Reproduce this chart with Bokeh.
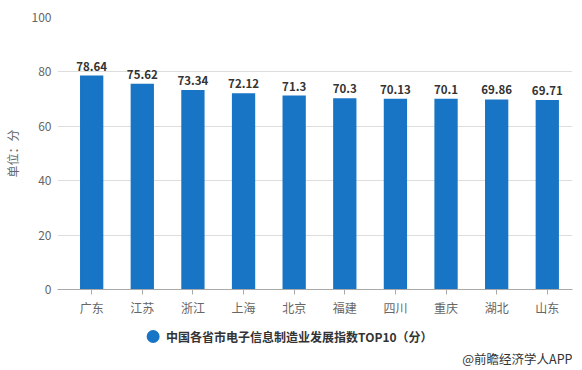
from bokeh.plotting import figure
from bokeh.layouts import column
from bokeh.models import ColumnDataSource, FixedTicker, Range1d
from bokeh.core.properties import value
from bokeh.embed import file_html
from bokeh.resources import INLINE

provinces = ["广东", "江苏", "浙江", "上海", "北京", "福建", "四川", "重庆", "湖北", "山东"]
values = [78.64, 75.62, 73.34, 72.12, 71.3, 70.3, 70.13, 70.1, 69.86, 69.71]
value_labels = ["78.64", "75.62", "73.34", "72.12", "71.3", "70.3", "70.13", "70.1", "69.86", "69.71"]
y_ticks = [0, 20, 40, 60, 80, 100]
series_name = "中国各省市电子信息制造业发展指数TOP10（分）"
y_title = "单位：分"
source_note = "@前瞻经济学人APP"

FONT = "Noto Sans CJK SC"
BAR = "#1874c4"
W = 574
FL, FR = 55, 572  # frame left / right in pixels

idx = list(range(len(provinces)))
src = ColumnDataSource(dict(x=idx, top=values, lab=value_labels))

p = figure(width=W, height=324, output_backend="svg",
           toolbar_location=None, min_border_left=FL, min_border_right=W - FR,
           min_border_top=17, min_border_bottom=35,
           x_range=Range1d(-0.675, len(provinces) - 0.502), y_range=Range1d(0, 100))
p.outline_line_color = None

p.vbar(x="x", top="top", width=0.46, source=src, color=BAR, line_color=None)
p.text(x="x", y="top", text="lab", source=src, text_align="center", text_baseline="bottom",
       y_offset=-5, text_font_size="11.5px", text_font_style="bold", text_color="#333333",
       text_font=value(FONT))

p.yaxis.ticker = FixedTicker(ticks=y_ticks)
p.yaxis.axis_line_color = None
p.yaxis.major_tick_line_color = None
p.yaxis.major_tick_out = 0
p.yaxis.major_tick_in = 0
p.yaxis.minor_tick_line_color = None
p.yaxis.major_label_text_font_size = "12px"
p.yaxis.major_label_text_color = "#666666"
p.yaxis.major_label_text_font = FONT
p.yaxis.major_label_standoff = 6
p.yaxis.axis_label = y_title
p.yaxis.axis_label_text_font = FONT
p.yaxis.axis_label_text_font_size = "12px"
p.yaxis.axis_label_text_font_style = "normal"
p.yaxis.axis_label_text_color = "#666666"
p.yaxis.axis_label_standoff = 8

p.xaxis.ticker = FixedTicker(ticks=idx)
p.xaxis.major_label_overrides = {i: name for i, name in zip(idx, provinces)}
p.xaxis.axis_line_color = "#aaaaaa"
p.xaxis.major_tick_line_color = "#aaaaaa"
p.xaxis.major_tick_in = 0
p.xaxis.major_tick_out = 5
p.xaxis.minor_tick_line_color = None
p.xaxis.major_label_text_font_size = "12px"
p.xaxis.major_label_text_color = "#666666"
p.xaxis.major_label_text_font = FONT
p.xaxis.major_label_standoff = 4

p.xgrid.grid_line_color = None
p.ygrid.grid_line_color = "#dddddd"
p.ygrid.ticker = FixedTicker(ticks=y_ticks)

# bottom strip: legend + source note (its frame is aligned with the main frame)
H2 = 44
q = figure(width=W, height=H2, output_backend="svg", toolbar_location=None,
           x_axis_type=None, y_axis_type=None, min_border=0,
           min_border_left=FL, min_border_right=W - FR,
           x_range=Range1d(FL, FR), y_range=Range1d(0, H2))
q.outline_line_color = None
q.grid.grid_line_color = None
q.scatter(x=[151], y=[H2 - 12], marker="circle", size=13, color=BAR, line_color=None)
q.text(x=[164], y=[H2 - 12], text=[series_name], text_align="left", text_baseline="middle",
       text_font_size="12px", text_font_style="bold", text_color="#333333",
       text_font=value(FONT))
q.text(x=[FR], y=[H2 - 34], text=[source_note], text_align="right", text_baseline="middle",
       text_font_size="12.5px", text_color="#333333", text_font=value(FONT))

layout = column(p, q, spacing=0)
open("out.html", "w").write(file_html(layout, INLINE))
